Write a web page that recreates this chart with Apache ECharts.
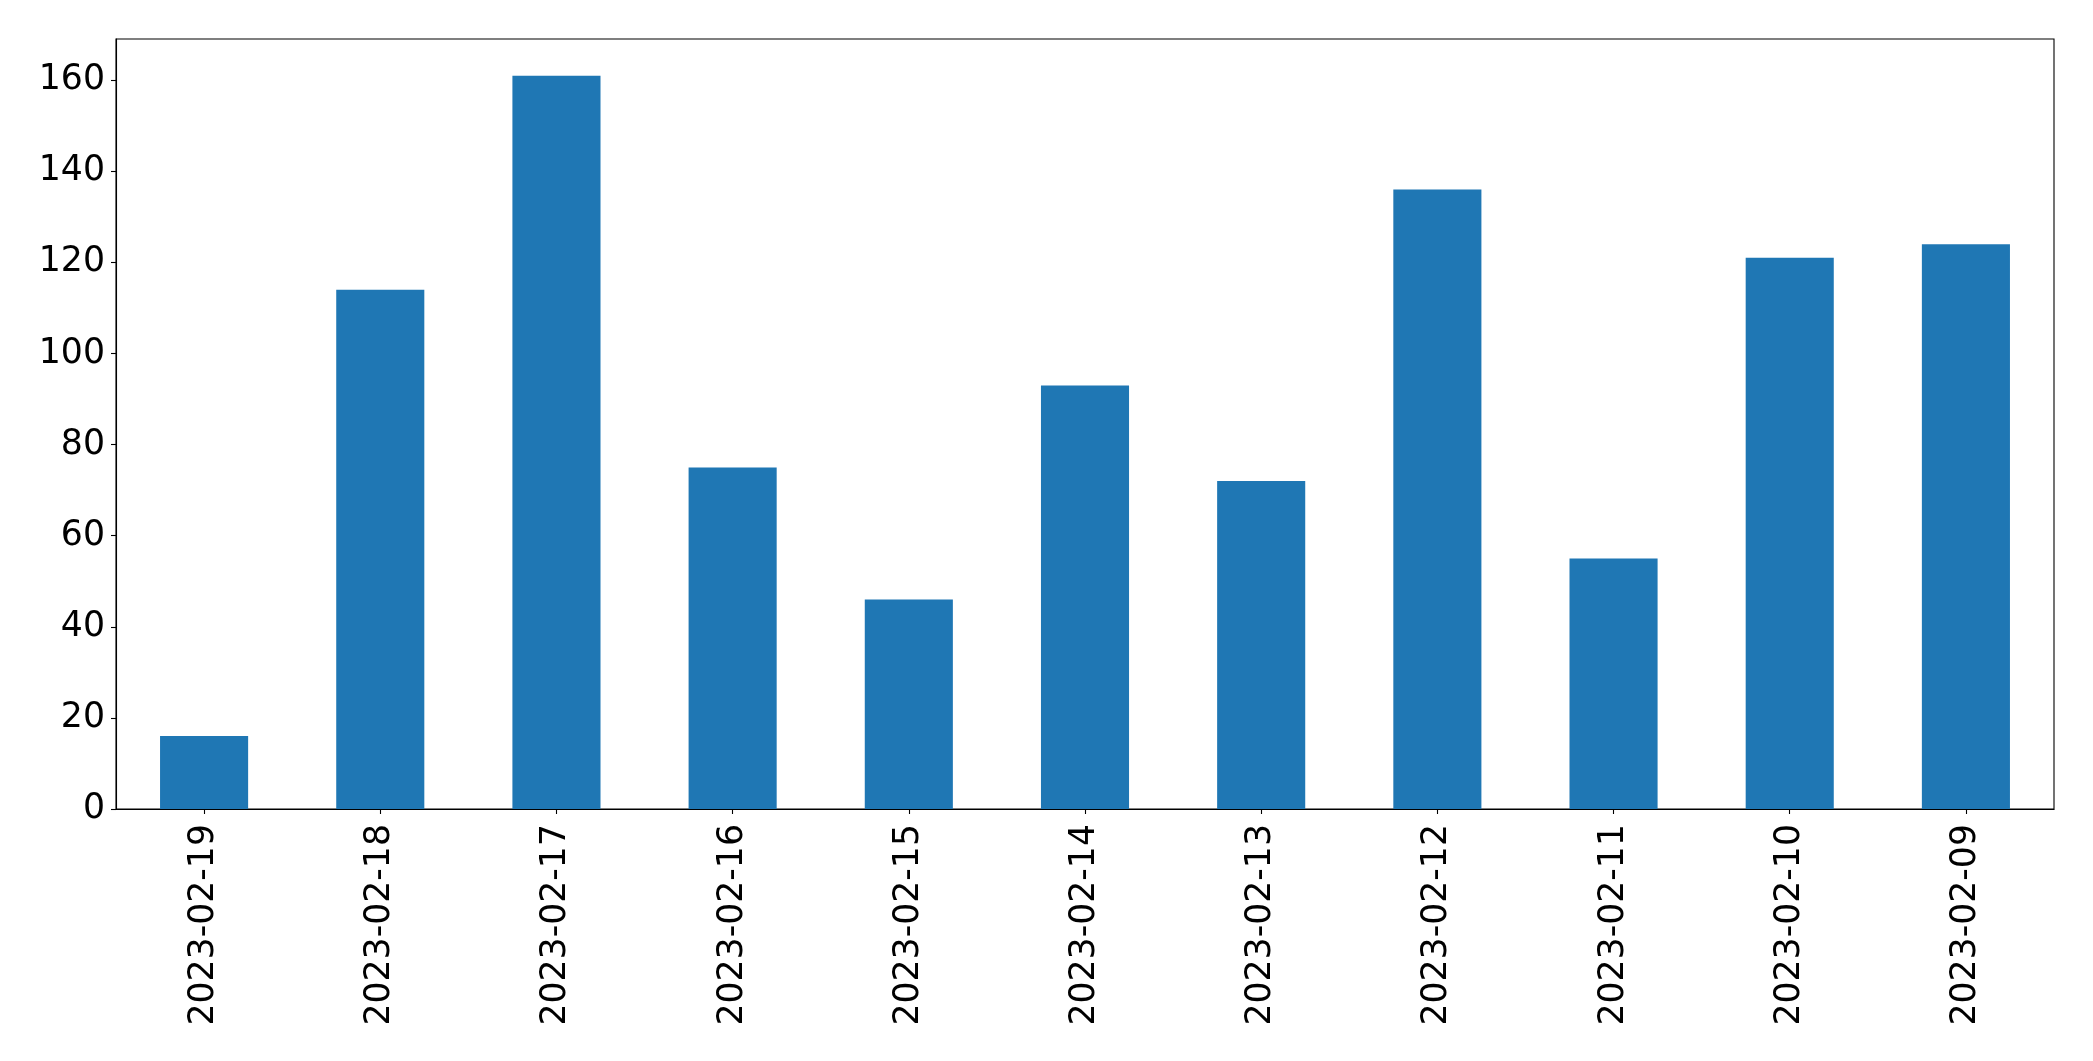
<!DOCTYPE html>
<html>
<head>
<meta charset="utf-8">
<script src="https://cdn.jsdelivr.net/npm/echarts@6/dist/echarts.min.js"></script>
<style>html,body{margin:0;padding:0;background:#fff}#c{width:2093px;height:1061px}</style>
</head>
<body>
<div id="c"></div>
<script>
const categories = ["2023-02-19","2023-02-18","2023-02-17","2023-02-16","2023-02-15","2023-02-14","2023-02-13","2023-02-12","2023-02-11","2023-02-10","2023-02-09"];
const values = [16, 114, 161, 75, 46, 93, 72, 136, 55, 121, 124];
const yTicks = [0, 20, 40, 60, 80, 100, 120, 140, 160];
const yMax = 169.05;

const chart = echarts.init(document.getElementById('c'), null, {renderer: 'canvas'});
const font = 'DejaVu Sans';
chart.setOption({
  animation: false,
  backgroundColor: '#ffffff',
  grid: {left: 116, top: 39, right: 39, bottom: 252, show: true, borderColor: '#000', borderWidth: 1.1, backgroundColor: 'transparent'},
  xAxis: {
    type: 'category',
    data: categories,
    boundaryGap: true,
    axisLine: {show: true, lineStyle: {color: '#000', width: 1.1}},
    axisTick: {show: true, alignWithLabel: true, length: 5, lineStyle: {color: '#000', width: 1.1}},
    axisLabel: {rotate: 90, fontSize: 34.7, fontFamily: font, color: '#000', margin: 15, interval: 0},
    splitLine: {show: false}
  },
  yAxis: {
    type: 'value',
    min: 0,
    max: yMax,
    axisLine: {show: true, lineStyle: {color: '#000', width: 1.1}},
    axisTick: {show: true, length: 5, lineStyle: {color: '#000', width: 1.1}, customValues: yTicks},
    axisLabel: {fontSize: 34.7, fontFamily: font, color: '#000', margin: 11, customValues: yTicks},
    splitLine: {show: false}
  },
  series: [{
    type: 'bar',
    data: values,
    barWidth: '50%',
    itemStyle: {color: '#1f77b4'}
  }]
});
</script>
</body>
</html>
